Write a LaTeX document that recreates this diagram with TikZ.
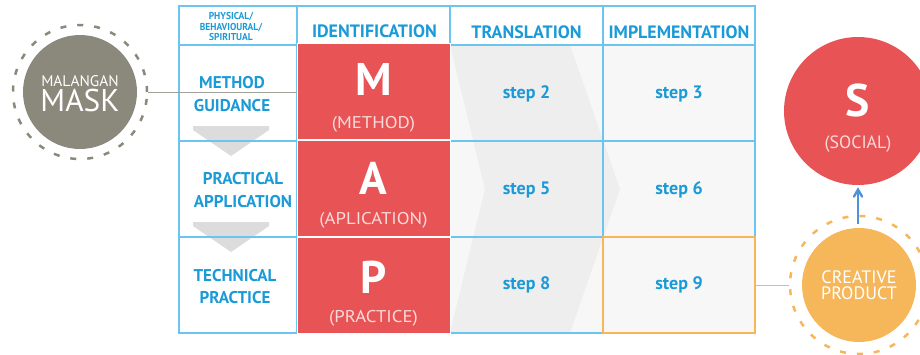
\documentclass[tikz,border=0pt]{standalone}
\usepackage{fontspec}
\setmainfont{PT Sans}
\newfontfamily\narrowfont[FakeStretch=0.95]{PT Sans}
\newfontfamily\widefont[FakeStretch=1.1]{PT Sans}
\usetikzlibrary{positioning,shapes,arrows}

\definecolor{tableblue}{HTML}{6CC5EE}
\definecolor{textblue}{HTML}{1A9AD7}
\definecolor{mapred}{HTML}{E85456}
\definecolor{prodorange}{HTML}{F6B65A}
\definecolor{maskgray}{HTML}{8A897B}
\definecolor{linegray}{HTML}{A3A29A}
\definecolor{cellgray}{HTML}{F7F7F7}
\definecolor{chevgray}{HTML}{EEEEEE}
\definecolor{arrowgray}{HTML}{DCDCDC}
\definecolor{subpink}{HTML}{FBDADA}
\definecolor{arrowblue}{HTML}{4C93D8}

\tikzset{
  gridline/.style={line width=1.2pt, color=tableblue},
  head/.style={anchor=base, inner sep=0pt, text=textblue, font=\bfseries\fontsize{17.9}{18}\selectfont},
  smallhead/.style={anchor=base, inner sep=0pt, text=textblue, font=\narrowfont\bfseries\fontsize{10}{10}\selectfont},
  rowlabel/.style={anchor=base, inner sep=0pt, text=textblue, font=\bfseries\fontsize{17}{17}\selectfont},
  steptext/.style={anchor=base, inner sep=0pt, text=textblue, font=\bfseries\fontsize{18}{19}\selectfont},
  redcell/.style={rectangle, fill=mapred, draw=white, line width=0.8pt, minimum width=153pt, minimum height=96pt, inner sep=0pt, outer sep=0pt},
  letter/.style={anchor=base, inner sep=0pt, text=white, font=\bfseries\fontsize{45.7}{46}\selectfont},
  subletter/.style={anchor=base, inner sep=0pt, text=subpink, font=\widefont\fontsize{17}{17}\selectfont},
  whitetext/.style={anchor=base, inner sep=0pt, text=white},
  dashring/.style={circle, line width=2.5pt, dash pattern=on 6pt off 11pt, inner sep=0pt}
}

\begin{document}
\begin{tikzpicture}[x=1pt,y=-1pt]
\useasboundingbox (0,0) rectangle (920,354);
% backgrounds
\fill[cellgray] (450,45) rectangle (755,333);
\fill[chevgray] (450,45) -- (570,45) -- (620,189) -- (570,333) -- (450,333) -- (485,189) -- cycle;
\fill[arrowgray] (193,126) -- (269,126) -- (269,130) -- (231,156) -- (193,130) -- cycle;
\fill[arrowgray] (193,222) -- (269,222) -- (269,226) -- (231,252) -- (193,226) -- cycle;
% table
\draw[gridline] (179,6) rectangle (755,333);
\draw[gridline] (179,45) -- (755,45);
\draw[gridline] (179,141) -- (755,141);
\draw[gridline] (179,237) -- (755,237);
\draw[gridline] (297,6) -- (297,333);
\draw[gridline] (450,6) -- (450,333);
\draw[gridline] (603,6) -- (603,333);
\node[redcell] (mcell) at (373.5,91) {};
\node[redcell] (acell) at (373.5,188) {};
\node[redcell] (pcell) at (373.5,285) {};
\node[draw=prodorange, line width=1.5pt, minimum width=152pt, minimum height=96pt, inner sep=0pt, outer sep=0pt] (s9cell) at (679,285) {};
% header
\node[smallhead] (physical) at (231,19.5) {PHYSICAL/};
\node[smallhead] (behavioural) at (231,30) {BEHAVIOURAL/};
\node[smallhead] (spiritual) at (231,40.5) {SPIRITUAL};
\node[head] (identification) at (374.5,37.5) {IDENTIFICATION};
\node[head] (translation) at (526.5,38) {TRANSLATION};
\node[head] (implementation) at (679,38) {IMPLEMENTATION};
% rows
\node[rowlabel] (method) at (232,88) {METHOD};
\node[rowlabel] (guidance) at (232,111) {GUIDANCE};
\node[rowlabel] (practical) at (243,184) {PRACTICAL};
\node[rowlabel] (application) at (243,207) {APPLICATION};
\node[rowlabel] (technical) at (235,281) {TECHNICAL};
\node[rowlabel] (practice) at (235,303) {PRACTICE};
\node[letter] (mletter) at (373.5,95) {M};
\node[subletter] (msub) at (373.5,128) {(METHOD)};
\node[letter] (aletter) at (373.5,194.5) {A};
\node[subletter] (asub) at (373.5,224) {(APLICATION)};
\node[letter] (pletter) at (373.5,293) {P};
\node[subletter] (psub) at (373.5,322) {(PRACTICE)};
\node[steptext] (step2) at (526.5,98.5) {step 2};
\node[steptext] (step3) at (679,98.5) {step 3};
\node[steptext] (step5) at (526.5,194.5) {step 5};
\node[steptext] (step6) at (679,194.5) {step 6};
\node[steptext] (step8) at (526.5,289.5) {step 8};
\node[steptext] (step9) at (679,289.5) {step 9};
% malangan mask
\node[dashring, draw=maskgray, minimum size=134pt] (maskring) at (80,92) {};
\node[circle, fill=maskgray, minimum size=114pt, inner sep=0pt] (maskcore) at (80,92) {};
\node[whitetext, font=\fontsize{15.4}{15}\selectfont] (malangan) at (80,86) {MALANGAN};
\node[whitetext, font=\fontsize{31.4}{32}\selectfont] (mask) at (80,111.5) {MASK};
\draw[line width=1pt, color=linegray] (maskring.east) -- (maskring.east -| mcell.west);
% social
\node[circle, fill=mapred, minimum size=148pt, inner sep=0pt] (social) at (858,111) {};
\node[whitetext, font=\bfseries\fontsize{45.7}{46}\selectfont] (sletter) at (858,116.5) {S};
\node[whitetext, text=subpink, font=\fontsize{17.8}{17}\selectfont] (ssub) at (858,148) {(SOCIAL)};
% creative product
\node[dashring, draw=prodorange, minimum size=138pt] (prodring) at (859,285) {};
\node[circle, fill=prodorange, minimum size=114pt, inner sep=0pt] (prodcore) at (859,285) {};
\node[whitetext, font=\fontsize{18}{18}\selectfont] (creative) at (859,283) {CREATIVE};
\node[whitetext, font=\fontsize{18}{18}\selectfont] (product) at (859,299.5) {PRODUCT};
\draw[line width=1pt, color=prodorange] (s9cell.east) -- (prodring.west);
\draw[line width=2.4pt, color=arrowblue, -angle 60, shorten <=4pt, shorten >=2pt] (prodcore.north -| social.south) -- (social.south);
\end{tikzpicture}
\end{document}
